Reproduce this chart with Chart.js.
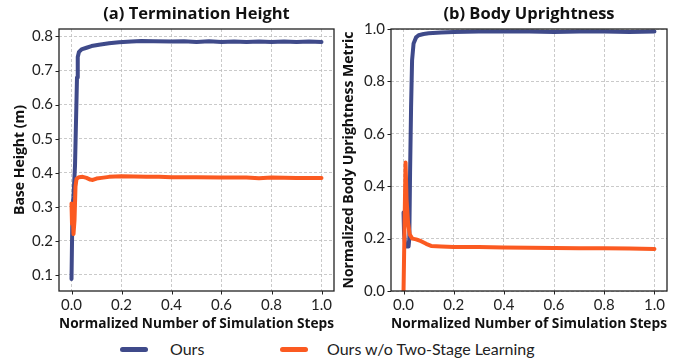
<!DOCTYPE html>
<html>
<head>
<meta charset="utf-8">
<script src="https://cdn.jsdelivr.net/npm/chart.js@4"></script>
<style>
  body { margin: 0; background: #fff; width: 683px; height: 358px; position: relative; overflow: hidden; }
  #chartA { position: absolute; left: 0; top: 0; }
  #chartB { position: absolute; left: 340px; top: 0; }
  .legend { position: absolute; top: 338px; font-family: "Lato", sans-serif; font-size: 16px; color: #222; line-height: 22px; }
  .swatch { position: absolute; top: 9px; width: 28px; height: 5px; border-radius: 3px; }
</style>
</head>
<body>
<canvas id="chartA" width="340" height="335"></canvas>
<canvas id="chartB" width="343" height="335"></canvas>
<div class="legend" style="left:120px"><span class="swatch" style="left:0;background:#3f4a8a"></span><span style="margin-left:50px">Ours</span></div>
<div class="legend" style="left:280px"><span class="swatch" style="left:0;background:#fb5a21"></span><span style="margin-left:47px">Ours w/o Two-Stage Learning</span></div>
<script>
/* ===== DATA ===== */
const seriesNames = ["Ours", "Ours w/o Two-Stage Learning"];
const seriesColors = ["#3f4a8a", "#fb5a21"];
const xTicks = [0, 0.2, 0.4, 0.6, 0.8, 1.0];

// (a) termination height
const heightTicks = [0.1, 0.2, 0.3, 0.4, 0.5, 0.6, 0.7, 0.8];
const oursHeightX = [0, 0.004, 0.008, 0.014, 0.018, 0.022, 0.025, 0.03, 0.04, 0.06, 0.08, 0.11, 0.15, 0.19, 0.24, 0.28, 0.33, 0.4, 0.45, 0.5, 0.55, 0.6, 0.65, 0.7, 0.75, 0.8, 0.85, 0.9, 0.95, 1.0];
const oursHeightY = [0.088, 0.3, 0.33, 0.42, 0.55, 0.68, 0.74, 0.755, 0.762, 0.767, 0.772, 0.776, 0.78, 0.783, 0.785, 0.787, 0.786, 0.785, 0.786, 0.784, 0.786, 0.784, 0.785, 0.784, 0.785, 0.784, 0.785, 0.784, 0.785, 0.784];
const baseHeightX = [0, 0.002, 0.004, 0.008, 0.012, 0.016, 0.02, 0.03, 0.045, 0.06, 0.075, 0.085, 0.1, 0.12, 0.15, 0.2, 0.25, 0.3, 0.35, 0.4, 0.5, 0.6, 0.7, 0.75, 0.8, 0.9, 1.0];
const baseHeightY = [0.31, 0.25, 0.3, 0.22, 0.26, 0.36, 0.382, 0.387, 0.388, 0.385, 0.38, 0.379, 0.383, 0.385, 0.388, 0.39, 0.389, 0.388, 0.388, 0.387, 0.387, 0.386, 0.386, 0.384, 0.386, 0.385, 0.385];

// (b) body uprightness
const uprightTicks = [0, 0.2, 0.4, 0.6, 0.8, 1.0];
const oursUprightX = [0, 0.002, 0.006, 0.012, 0.02, 0.023, 0.026, 0.03, 0.034, 0.04, 0.05, 0.06, 0.08, 0.1, 0.15, 0.2, 0.3, 0.4, 0.5, 0.6, 0.7, 0.8, 0.9, 1.0];
const oursUprightY = [0.3, 0.22, 0.18, 0.17, 0.17, 0.2, 0.45, 0.7, 0.88, 0.945, 0.968, 0.976, 0.981, 0.984, 0.987, 0.989, 0.99, 0.99, 0.99, 0.989, 0.99, 0.99, 0.989, 0.99];
const baseUprightX = [0, 0.004, 0.008, 0.012, 0.018, 0.025, 0.035, 0.05, 0.07, 0.09, 0.11, 0.15, 0.2, 0.3, 0.4, 0.5, 0.6, 0.7, 0.8, 0.9, 1.0];
const baseUprightY = [0, 0.25, 0.49, 0.35, 0.26, 0.215, 0.2, 0.197, 0.19, 0.18, 0.172, 0.17, 0.168, 0.168, 0.166, 0.165, 0.164, 0.163, 0.163, 0.162, 0.16];

/* ===== HELPERS ===== */
const toPoints = (xs, ys) => xs.map((x, i) => ({ x: x, y: ys[i] }));
const tickFont = { family: "Lato", size: 15 };
const titleFont = { family: "Open Sans", size: 14, weight: "bold" };

// box around plot area + small outward tick marks + panel title
const frame = {
  id: "frame",
  afterDatasetsDraw(chart) {
    const { ctx, chartArea: a, scales } = chart;
    ctx.save();
    ctx.strokeStyle = "#222";
    ctx.lineWidth = 1.3;
    ctx.strokeRect(a.left, a.top, a.right - a.left, a.bottom - a.top);
    ctx.lineWidth = 1;
    ctx.beginPath();
    scales.x.ticks.forEach((t) => {
      const px = Math.round(scales.x.getPixelForValue(t.value)) + 0.5;
      ctx.moveTo(px, a.bottom);
      ctx.lineTo(px, a.bottom + 3.5);
    });
    scales.y.ticks.forEach((t) => {
      const py = Math.round(scales.y.getPixelForValue(t.value)) + 0.5;
      ctx.moveTo(a.left, py);
      ctx.lineTo(a.left - 3.5, py);
    });
    ctx.stroke();
    ctx.restore();
  },
  afterDraw(chart) {
    const { ctx, chartArea: a } = chart;
    ctx.save();
    ctx.font = "bold 16.5px 'Open Sans'";
    ctx.fillStyle = "#111";
    ctx.textAlign = "center";
    ctx.textBaseline = "middle";
    ctx.fillText(chart.options.plugins.frameTitle, (a.left + a.right) / 2, 14);
    ctx.restore();
  },
};

function makeChart(el, cfg) {
  return new Chart(el, {
    type: "line",
    data: {
      datasets: [
        { label: seriesNames[0], data: toPoints(cfg.xs[0], cfg.ys[0]), borderColor: seriesColors[0], order: 1 },
        { label: seriesNames[1], data: toPoints(cfg.xs[1], cfg.ys[1]), borderColor: seriesColors[1], order: 0 },
      ],
    },
    options: {
      responsive: false,
      animation: false,
      layout: { padding: { top: 29, left: 0, right: cfg.padRight, bottom: 0 } },
      elements: {
        point: { radius: 0 },
        line: { borderWidth: 4, tension: 0, borderCapStyle: "round", borderJoinStyle: "round" },
      },
      plugins: {
        legend: { display: false },
        tooltip: { enabled: false },
        frameTitle: cfg.title,
      },
      scales: {
        x: {
          type: "linear",
          min: -0.05,
          max: 1.05,
          afterBuildTicks: (s) => { s.ticks = xTicks.map((v) => ({ value: v })); },
          afterFit: (s) => { s.height = 44; },
          ticks: { font: tickFont, color: "#222", padding: 5, callback: (v) => v.toFixed(1) },
          grid: { color: "#bdbdbd", lineWidth: 0.8, drawTicks: false },
          border: { display: false, dash: [3, 2] },
          title: { display: true, text: "Normalized Number of Simulation Steps", font: titleFont, color: "#111", padding: { top: 0, bottom: 2.5 } },
        },
        y: {
          type: "linear",
          min: cfg.yMin,
          max: cfg.yMax,
          afterBuildTicks: (s) => { s.ticks = cfg.yTicks.map((v) => ({ value: v })); },
          afterFit: (s) => { s.width = cfg.yWidth; },
          ticks: { font: tickFont, color: "#222", padding: 6, callback: (v) => v.toFixed(1) },
          grid: { color: "#bdbdbd", lineWidth: 0.8, drawTicks: false },
          border: { display: false, dash: [3, 2] },
          title: { display: true, text: cfg.yTitle, font: titleFont, color: "#111", padding: { top: cfg.yTitlePad, bottom: 0 } },
        },
      },
    },
    plugins: [frame],
  });
}

/* ===== (a) TERMINATION HEIGHT ===== */
makeChart(document.getElementById("chartA"), {
  title: "(a) Termination Height",
  xs: [oursHeightX, baseHeightX],
  ys: [oursHeightY, baseHeightY],
  yTicks: heightTicks,
  yMin: 0.053,
  yMax: 0.822,
  yTitle: "Base Height (m)",
  yWidth: 59,
  yTitlePad: 11.5,
  padRight: 6,
});

/* ===== (b) BODY UPRIGHTNESS ===== */
makeChart(document.getElementById("chartB"), {
  title: "(b) Body Uprightness",
  xs: [oursUprightX, baseUprightX],
  ys: [oursUprightY, baseUprightY],
  yTicks: uprightTicks,
  yMin: 0,
  yMax: 1,
  yTitle: "Normalized Body Uprightness Metric",
  yWidth: 51,
  yTitlePad: 1,
  padRight: 16,
});
</script>
</body>
</html>
